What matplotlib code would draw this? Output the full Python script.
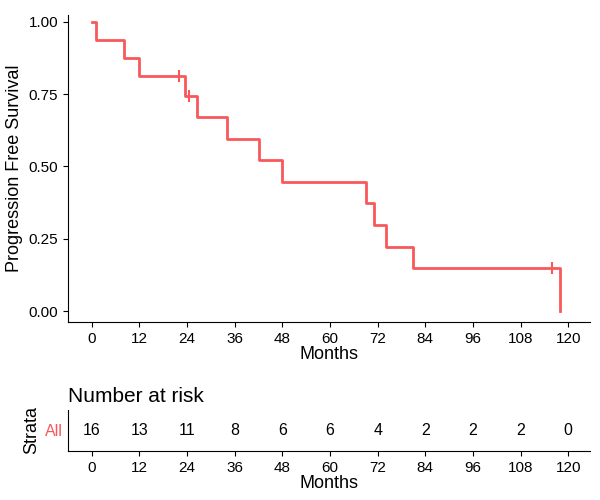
import matplotlib
matplotlib.use("Agg")
from matplotlib import pyplot as plt

# step times and survival levels
times = [0, 1, 8, 12, 23.5, 26.5, 34, 42, 48, 69, 71, 74, 81, 118]
surv = [1.0, 0.9375, 0.875, 0.8125, 0.745, 0.670, 0.596, 0.521, 0.447,
        0.372, 0.298, 0.223, 0.149, 0.0]
cens_t = [22, 24.5, 116]
cens_s = [0.8125, 0.745, 0.149]
risk_t = [0, 12, 24, 36, 48, 60, 72, 84, 96, 108, 120]
risk_n = [16, 13, 11, 8, 6, 6, 4, 2, 2, 2, 0]
xt = list(range(0, 121, 12))

red = '#F8585A'
plt.rcParams['font.family'] = ['Liberation Sans', 'DejaVu Sans']
fig = plt.figure(figsize=(6, 5), dpi=100)
ax = fig.add_axes([68 / 600, 1 - 322 / 500, 522 / 600, 307 / 500])
ax.step(times, surv, where='post', color=red, lw=2)
ax.plot(cens_t, cens_s, '|', color=red, ms=8, mew=1.5)
ax.set_xlim(-6, 125.5)
ax.set_ylim(-0.038, 1.024)
ax.set_xticks(xt)
ax.set_yticks([0, 0.25, 0.5, 0.75, 1.0])
ax.set_yticklabels(['0.00', '0.25', '0.50', '0.75', '1.00'])
ax.set_xlabel('Months', fontsize=13, labelpad=0)
ax.set_ylabel('Progression Free Survival', fontsize=13)
ax.spines['top'].set_visible(False)
ax.spines['right'].set_visible(False)
ax.tick_params(labelsize=11, colors='black')

ax2 = fig.add_axes([68 / 600, 1 - 451 / 500, 522 / 600, 41 / 500])
for t, n in zip(risk_t, risk_n):
    ax2.text(t, 0, str(n), ha='center', va='center', fontsize=11.5)
ax2.set_xlim(-6, 125.5)
ax2.set_ylim(-1, 1)
ax2.set_xticks(xt)
ax2.set_yticks([0])
ax2.set_yticklabels(['All'], color=red, fontsize=11.5)
ax2.tick_params(axis='y', length=0)
ax2.tick_params(axis='x', labelsize=11)
ax2.spines['top'].set_visible(False)
ax2.spines['right'].set_visible(False)
ax2.set_xlabel('Months', fontsize=13, labelpad=0)
ax2.set_ylabel('Strata', fontsize=13)
ax2.set_title('Number at risk', loc='left', fontsize=15, pad=6)
fig.savefig('out.png')
